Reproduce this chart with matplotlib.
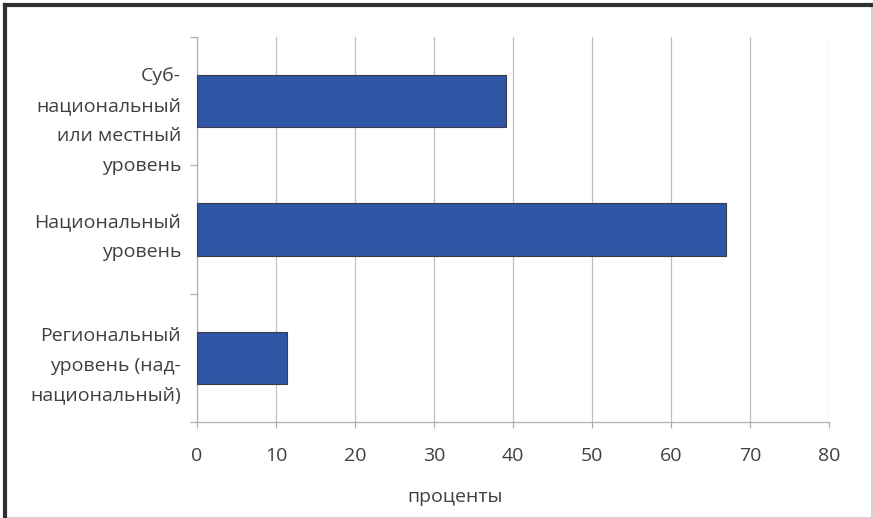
import matplotlib
matplotlib.use("Agg")
import matplotlib.pyplot as plt
from matplotlib.patches import Rectangle
import matplotlib.transforms as mtransforms
import numpy as np

categories = ["Региональный\nуровень (над-\nнациональный)",
              "Национальный\nуровень",
              "Суб-\nнациональный\nили местный\nуровень"]
values = [11.4, 67.0, 39.1]
xticks = [0, 10, 20, 30, 40, 50, 60, 70, 80]
xlabel = "проценты"

W, H = 873, 518
plt.rcParams['font.family'] = ['Open Sans', 'DejaVu Sans']
fig = plt.figure(figsize=(W/100, H/100), dpi=100)
fig.patch.set_facecolor('white')

FS = 14
ax = fig.add_axes([197/W, (H-422)/H, (829-197)/W, (422-37)/H])
y = np.arange(len(categories))
ax.barh(y, values, height=0.41, color='#2F55A5', edgecolor='#3a3a4a', linewidth=0.8, zorder=3)
ax.set_xlim(0, 80)
ax.set_ylim(-0.5, len(categories)-0.5)
ax.set_xticks(xticks)
ax.set_xticklabels([str(t) for t in xticks])
ax.xaxis.grid(True, color='#c0c0c0', linewidth=0.9, zorder=0)
ax.set_yticks(y)
ax.set_yticklabels(categories, linespacing=1.84, ha='right')
ax.set_yticks(np.arange(len(categories)+1)-0.5, minor=True)
ax.tick_params(axis='y', which='major', length=0, pad=11.5, labelsize=FS, labelcolor='#404040')
ax.tick_params(axis='y', which='minor', length=5, color='#b0b0b0', width=0.9)
ax.tick_params(axis='x', length=4, color='#b0b0b0', width=0.9, pad=14, labelsize=FS, labelcolor='#404040')
for s in ['top', 'right']:
    ax.spines[s].set_visible(False)
for s in ['left', 'bottom']:
    ax.spines[s].set_color('#b0b0b0')
    ax.spines[s].set_linewidth(0.9)

# top label sits lower in the reference
lbl = ax.get_yticklabels()[-1]
lbl.set_transform(lbl.get_transform() + mtransforms.ScaledTranslation(0, -12/100, fig.dpi_scale_trans))

fig.text(455/W, 1-497/H, xlabel, ha='center', va='center', fontsize=FS, color='#404040')

# frame
fig.add_artist(Rectangle((5/W, 0), 1-5/W-1/W, 1-5/H, transform=fig.transFigure,
                         fill=False, edgecolor='#c8c8c8', linewidth=1.2))
fig.add_artist(plt.Line2D([5/W, 5/W], [0, 1-5/H], transform=fig.transFigure, color='#303030', linewidth=3))
fig.add_artist(plt.Line2D([5/W, 1], [1-5/H, 1-5/H], transform=fig.transFigure, color='#303030', linewidth=3))

fig.savefig("out.png", dpi=100)
